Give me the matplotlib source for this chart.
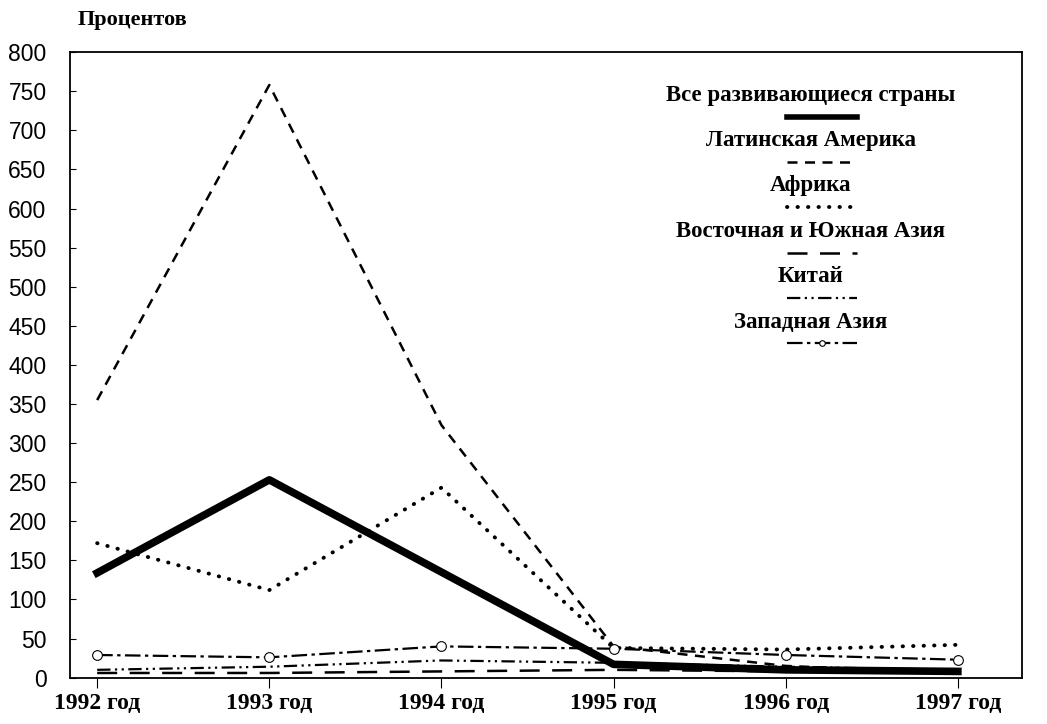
import numpy as np
import matplotlib.pyplot as plt

# Данные (проценты)
years = ['1992 год', '1993 год', '1994 год', '1995 год', '1996 год', '1997 год']
all_dev = [134, 253, 135, 17, 10, 8]
latin_am = [355, 758, 323, 40, 15, 6]
africa = [172, 112, 243, 38, 36, 42]
east_south_asia = [6, 6, 8, 10, 8, 6]
china = [10, 14, 22, 19, 14, 10]
west_asia = [29, 26, 40, 37, 29, 23]

serif = ['Liberation Serif', 'DejaVu Serif']
sans = ['Liberation Sans', 'DejaVu Sans']

fig = plt.figure(figsize=(10.47, 7.24), dpi=100)
ax = fig.add_axes([0.067, 0.064, 0.909, 0.864])

x = np.arange(len(years))

series = [
    ('Все развивающиеся страны', all_dev, dict(color='black', lw=5.5, ls='-')),
    ('Латинская Америка', latin_am, dict(color='black', lw=1.8, ls=(0, (4, 3)))),
    ('Африка', africa, dict(color='black', lw=2.8, ls=(0, (0.1, 2.6)), dash_capstyle='round')),
    ('Восточная и Южная Азия', east_south_asia, dict(color='black', lw=1.8, ls=(0, (8, 5)))),
    ('Китай', china, dict(color='black', lw=1.6, ls=(0, (6, 2, 1, 2, 1, 2)))),
    ('Западная Азия', west_asia, dict(color='black', lw=1.6, ls=(0, (7, 2, 1.5, 2)),
                                      marker='o', ms=7, mfc='white', mec='black', mew=0.8)),
]

for name, vals, st in series:
    ax.plot(x, vals, **st)

ax.set_xlim(-0.157, 5.372)
ax.set_ylim(0, 800)
ax.set_yticks(np.arange(0, 801, 50))
ax.set_xticks(x)
ax.set_xticklabels(years, fontfamily=serif, fontweight='bold', fontsize=17)
for lab in ax.get_yticklabels():
    lab.set_fontfamily(sans)
    lab.set_fontsize(16.5)
ax.tick_params(axis='y', direction='in', length=4, pad=17)
ax.tick_params(axis='x', direction='out', length=7, pad=4)
for s in ax.spines.values():
    s.set_linewidth(1.3)

fig.text(0.127, 0.972, 'Процентов', fontfamily=serif, fontweight='bold', fontsize=16,
         ha='center', va='center')

# Легенда: подпись сверху, образец линии снизу
lx = 0.778
y0 = 0.931
step = 0.0725
for i, (name, vals, st) in enumerate(series):
    yy = y0 - i * step
    ax.text(lx, yy, name, transform=ax.transAxes, ha='center', va='center',
            fontfamily=serif, fontweight='bold', fontsize=16.5)
    kw = dict(st)
    kw['lw'] = min(kw['lw'], 4)
    if 'marker' in kw:
        kw['markevery'] = [1]
        kw['ms'] = 4
    sx = lx + 0.012
    ax.plot([sx - 0.037, sx, sx + 0.037], [yy - 0.034] * 3, transform=ax.transAxes, **kw)

fig.savefig('out.png', dpi=100)
